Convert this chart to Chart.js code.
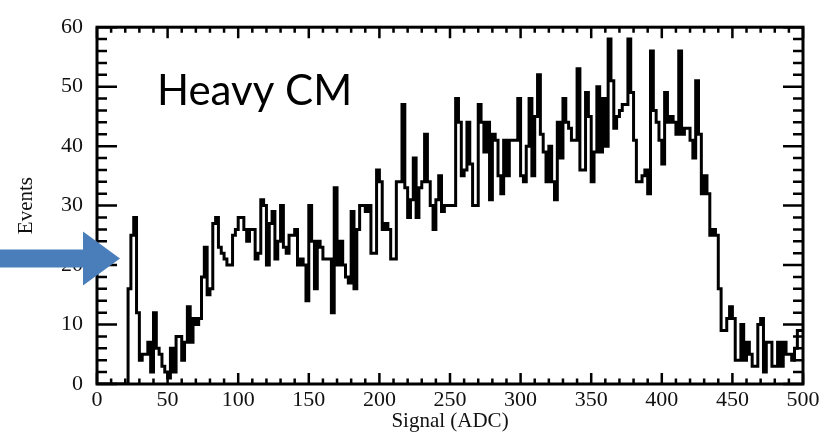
<!DOCTYPE html>
<html>
<head>
<meta charset="utf-8">
<script src="https://cdn.jsdelivr.net/npm/chart.js@4"></script>
<style>
  html, body { margin: 0; padding: 0; background: #fff; }
  #wrap { width: 829px; height: 434px; }
</style>
</head>
<body>
<div id="wrap"><canvas id="histo"></canvas></div>
<script>
// histogram: bins of 2 ADC from 0 to 500
var binLow = 0;
var binWidth = 2;
var xRange = [0, 500];
var yRange = [0, 60];
var xTickLabels = [0, 50, 100, 150, 200, 250, 300, 350, 400, 450, 500];
var yTickLabels = [0, 10, 20, 30, 40, 50, 60];

var counts = [
  0, 0, 0, 0, 0, 0, 0, 0, 0, 0, 0, 0,
  16, 25, 28, 12, 4, 5, 5, 7, 2, 12,
  6, 5, 3, 2, 1, 6, 2, 8, 8, 4,
  7, 13, 7, 11, 10, 11, 18, 23, 15, 16,
  27, 28, 23, 22, 21, 20, 20, 25, 26, 28,
  28, 26, 24, 26, 26, 21, 22, 31, 30, 20,
  27, 29, 21, 24, 30, 23, 22, 25, 25, 26,
  20, 21, 20, 14, 30, 24, 16, 24, 23, 21,
  21, 21, 12, 33, 20, 24, 20, 18, 17, 29,
  16, 26, 30, 30, 29, 30, 22, 22, 36, 34,
  26, 27, 26, 21, 21, 34, 34, 47, 33, 28,
  31, 38, 28, 33, 34, 42, 34, 30, 26, 31,
  35, 29, 30, 30, 30, 30, 48, 44, 35, 36,
  44, 37, 30, 30, 47, 44, 39, 44, 31, 42,
  41, 35, 32, 41, 35, 41, 41, 41, 48, 35,
  34, 40, 48, 35, 45, 52, 42, 39, 34, 40,
  34, 31, 44, 38, 48, 44, 43, 41, 41, 53,
  36, 36, 49, 45, 34, 39, 50, 39, 48, 40,
  58, 51, 43, 45, 46, 47, 47, 58, 49, 41,
  34, 34, 35, 36, 32, 56, 46, 44, 41, 37,
  49, 44, 45, 44, 42, 56, 42, 43, 43, 41,
  38, 51, 42, 32, 35, 32, 25, 26, 25, 16,
  9, 9, 11, 13, 11, 4, 4, 10, 4, 7,
  5, 3, 3, 10, 11, 2, 7, 7, 3, 3,
  7, 3, 7, 5, 5, 4, 6, 9
];

var label = "Heavy CM";
var xTitle = "Signal (ADC)";
var yTitle = "Events";

// step points at the lower edge of each bin, plus the closing edge
var points = counts.map(function (c, i) {
  return { x: binLow + i * binWidth, y: c };
});
points.push({ x: binLow + counts.length * binWidth, y: counts[counts.length - 1] });

var serif = "'Liberation Serif', 'Times New Roman', serif";

// frame with inward ticks on all four sides, plus the annotations
var frameTicks = {
  id: "frameTicks",
  afterDraw: function (chart) {
    var c = chart.ctx, a = chart.chartArea;
    var xs = chart.scales.x, ys = chart.scales.y;
    c.save();
    c.strokeStyle = "#000";
    c.lineWidth = 2.5;
    c.beginPath();
    for (var v = xRange[0]; v <= xRange[1]; v += 10) {
      var px = xs.getPixelForValue(v);
      var len = v % 50 === 0 ? 11 : 5.5;
      c.moveTo(px, a.bottom); c.lineTo(px, a.bottom - len);
      c.moveTo(px, a.top); c.lineTo(px, a.top + len);
    }
    for (var w = yRange[0]; w <= yRange[1]; w += 2) {
      var py = ys.getPixelForValue(w);
      var len2 = w % 10 === 0 ? 20 : 10;
      c.moveTo(a.left, py); c.lineTo(a.left + len2, py);
      c.moveTo(a.right, py); c.lineTo(a.right - len2, py);
    }
    c.stroke();
    c.lineWidth = 3;
    c.strokeRect(a.left, a.top, a.right - a.left, a.bottom - a.top);

    // label
    c.fillStyle = "#000";
    c.font = "42px Lato, 'Open Sans', sans-serif";
    c.textBaseline = "alphabetic";
    c.textAlign = "left";
    c.fillText(label, xs.getPixelForValue(42.5), ys.getPixelForValue(47));

    // blue arrow pointing at the first peak
    var tipX = xs.getPixelForValue(16.3), tipY = ys.getPixelForValue(21.1);
    var headLen = 37, headHalf = 27, shaftHalf = 9;
    c.fillStyle = "#4a7ebb";
    c.beginPath();
    c.moveTo(0, tipY - shaftHalf);
    c.lineTo(tipX - headLen, tipY - shaftHalf);
    c.lineTo(tipX - headLen, tipY - headHalf);
    c.lineTo(tipX, tipY);
    c.lineTo(tipX - headLen, tipY + headHalf);
    c.lineTo(tipX - headLen, tipY + shaftHalf);
    c.lineTo(0, tipY + shaftHalf);
    c.closePath();
    c.fill();
    c.restore();
  }
};

var ctx = document.getElementById("histo").getContext("2d");
var histo = new Chart(ctx, {
  type: "line",
  data: {
    datasets: [
      {
        label: label,
        data: points,
        stepped: "after",
        borderColor: "#000",
        borderWidth: 3,
        pointRadius: 0,
        fill: false,
      },
    ],
  },
  options: {
    responsive: true,
    maintainAspectRatio: false,
    animation: false,
    layout: { padding: { left: 0, right: 26, top: 17, bottom: 0 } },
    plugins: {
      legend: { display: false },
      tooltip: { enabled: false },
    },
    scales: {
      x: {
        type: "linear",
        min: xRange[0],
        max: xRange[1],
        afterFit: function (s) { s.height = 50; },
        afterBuildTicks: function (s) {
          s.ticks = xTickLabels.map(function (v) { return { value: v }; });
        },
        grid: { display: false, drawTicks: false, tickLength: 0 },
        border: { display: false },
        ticks: { color: "#111", padding: 3, maxRotation: 0, font: { family: serif, size: 22 } },
        title: {
          display: true,
          text: xTitle,
          color: "#111",
          font: { family: serif, size: 21 },
          padding: { top: 0, bottom: 0 },
        },
      },
      y: {
        min: yRange[0],
        max: yRange[1],
        afterFit: function (s) { s.width = 97; },
        afterBuildTicks: function (s) {
          s.ticks = yTickLabels.map(function (v) { return { value: v }; });
        },
        grid: { display: false, drawTicks: false, tickLength: 0 },
        border: { display: false },
        ticks: { color: "#111", padding: 14, font: { family: serif, size: 22 } },
        title: {
          display: true,
          text: yTitle,
          color: "#111",
          font: { family: serif, size: 21 },
          padding: { top: 14, bottom: 0 },
        },
      },
    },
  },
  plugins: [frameTicks],
});
</script>
</body>
</html>
